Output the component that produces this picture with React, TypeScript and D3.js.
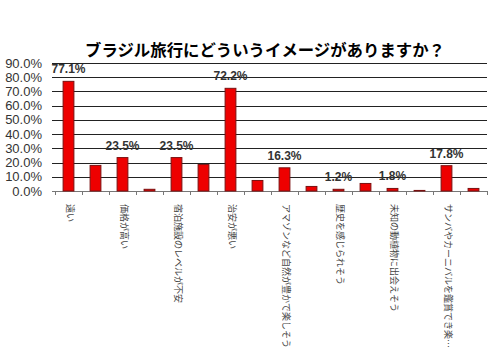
import React from "react";
import * as d3 from "d3";

const title = "ブラジル旅行にどういうイメージがありますか？";

// every second category label is hidden in the original chart
const categories = [
  "遠い", "",
  "価格が高い", "",
  "宿泊施設のレベルが不安", "",
  "治安が悪い", "",
  "アマゾンなど自然が豊かで楽しそう", "",
  "歴史を感じられそう", "",
  "未知の動植物に出会えそう", "",
  "サンバやカーニバルを鑑賞でき楽…", "",
];
const values = [77.1, 18.0, 23.5, 1.2, 23.5, 18.6, 72.2, 7.4, 16.3, 3.2, 1.2, 5.3, 1.8, 0.4, 17.8, 1.8];
const shownValue = [true, false, true, false, true, false, true, false, true, false, true, false, true, false, true, false];
const yTicks = [0, 10, 20, 30, 40, 50, 60, 70, 80, 90];

const W = 501;
const H = 360;
const margin = { left: 55, right: 14, top: 63, bottom: 169 };

const App = () => {
  const x = d3
    .scaleBand<number>()
    .domain(values.map((v, i) => i))
    .range([margin.left, W - margin.right])
    .paddingInner(0.6)
    .paddingOuter(0.3);
  const y = d3.scaleLinear().domain([0, 90]).range([H - margin.bottom, margin.top]);
  const step = x.step();
  const x0 = margin.left;
  const x1 = W - margin.right;
  const font = "'Liberation Sans', Arial, 'Noto Sans CJK JP', sans-serif";

  return (
    <svg width={W} height={H} style={{ position: "absolute", left: 0, top: 0, background: "#fff" }}>
      <text x={265} y={56} textAnchor="middle" fontSize={16.4} fontWeight="bold" fill="#000"
        fontFamily="'Noto Sans CJK JP', sans-serif">
        {title}
      </text>

      {yTicks.map(t => (
        <g key={t}>
          <line x1={x0 - 3} x2={x1} y1={Math.round(y(t)) + 0.5} y2={Math.round(y(t)) + 0.5}
            stroke={t === 0 ? "#777" : "#222"} strokeWidth={1} />
          <text x={42} y={y(t) + 4.5} textAnchor="end" fontSize={13} fill="#333" fontFamily={font}>
            {t.toFixed(1)}%
          </text>
        </g>
      ))}

      {d3.range(values.length + 1).map(i => (
        <line key={i} x1={Math.round(x0 + i * step) + 0.5} x2={Math.round(x0 + i * step) + 0.5}
          y1={y(0)} y2={y(0) + 4} stroke="#777" />
      ))}

      {values.map((v, i) => (
        <rect key={i} x={x(i)} y={y(v)} width={x.bandwidth()} height={y(0) - y(v)}
          fill="#ee0000" stroke="#7a1010" strokeWidth={1} />
      ))}

      {values.map((v, i) =>
        shownValue[i] ? (
          <text key={i} x={x(i)! + x.bandwidth() / 2} y={y(v) - 8} textAnchor="middle"
            fontSize={12} fontWeight="bold" fill="#333" fontFamily={font}>
            {v.toFixed(1)}%
          </text>
        ) : null
      )}

      {categories.map((c, i) => {
        const cx = x(i)! + x.bandwidth() / 2;
        const cy = y(0) + 13;
        return c ? (
          <text key={i} transform={`translate(${cx + 1},${cy}) rotate(90)`} fontSize={9}
            fill="#444" fontFamily="'Noto Sans CJK JP', sans-serif" dominantBaseline="middle">
            {c}
          </text>
        ) : null;
      })}
    </svg>
  );
};

export default App;
